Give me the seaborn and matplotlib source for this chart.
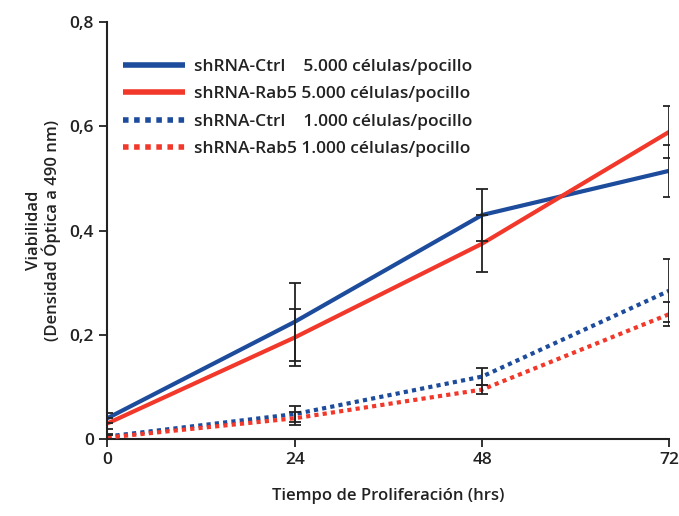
import numpy as np
import pandas as pd
import seaborn as sns
import matplotlib.pyplot as plt
from matplotlib.lines import Line2D

sns.set_style("white")
plt.rcParams['font.family'] = ['Open Sans', 'DejaVu Sans']

horas = [0, 24, 48, 72]
ctrl_5000 = [0.04, 0.225, 0.43, 0.515]
rab5_5000 = [0.03, 0.195, 0.375, 0.59]
ctrl_1000 = [0.005, 0.048, 0.12, 0.285]
rab5_1000 = [0.003, 0.04, 0.095, 0.24]
err_ctrl_5000 = [0.01, 0.075, 0.05, 0.05]
err_rab5_5000 = [0.01, 0.055, 0.055, 0.05]
err_ctrl_1000 = [0.005, 0.015, 0.017, 0.06]
err_rab5_1000 = [0.005, 0.012, 0.008, 0.023]

etiquetas = ["shRNA-Ctrl", "shRNA-Rab5", "shRNA-Ctrl", "shRNA-Rab5"]
celulas = ["5.000 células/pocillo", "5.000 células/pocillo",
           "1.000 células/pocillo", "1.000 células/pocillo"]

azul = "#1d4c9c"
rojo = "#f2382a"

series = [
    (ctrl_5000, err_ctrl_5000, azul, "-"),
    (rab5_5000, err_rab5_5000, rojo, "-"),
    (ctrl_1000, err_ctrl_1000, azul, (0, (1, 1))),
    (rab5_1000, err_rab5_1000, rojo, (0, (1, 1))),
]

fig = plt.figure(figsize=(6.79, 5.16), dpi=100)
ax = fig.add_axes([0.158, 0.149, 0.828, 0.808])

handles = []
for (vals, errs, col, ls) in series:
    df = pd.DataFrame({"t": horas, "v": vals})
    sns.lineplot(data=df, x="t", y="v", ax=ax, color=col, lw=3, linestyle=ls,
                 dash_capstyle="butt", solid_capstyle="butt", zorder=3)
    ax.errorbar(horas, vals, yerr=errs, fmt="none", ecolor="#222222",
                elinewidth=1.3, capsize=4, capthick=1.3, zorder=4)
    handles.append(Line2D([], [], color=col, lw=4, linestyle=ls,
                          dash_capstyle="butt", solid_capstyle="butt"))

ax.set_xlim(0, 72)
ax.set_ylim(0, 0.8)
ax.set_xticks(horas)
ax.set_yticks([0, 0.2, 0.4, 0.6, 0.8])
ax.set_yticklabels(["0", "0,2", "0,4", "0,6", "0,8"])
ax.tick_params(axis="both", labelsize=12.5, length=6, width=1.3, direction="out",
               left=True, bottom=True, colors="#222222", labelcolor="#222222")
for lab in ax.get_xticklabels() + ax.get_yticklabels():
    lab.set_fontweight("semibold")
for s in ["top", "right"]:
    ax.spines[s].set_visible(False)
for s in ["left", "bottom"]:
    ax.spines[s].set_linewidth(1.5)
    ax.spines[s].set_color("#222222")
    ax.spines[s].set_clip_on(False)

ax.set_xlabel("Tiempo de Proliferación (hrs)", fontsize=12, fontweight="semibold",
              color="#222222", labelpad=14)
ax.set_ylabel("Viabilidad\n(Densidad Óptica a 490 nm)", fontsize=12,
              fontweight="semibold", color="#222222", labelpad=6, linespacing=1.0)

labels = []
for e, c in zip(etiquetas, celulas):
    pad = "    " if e.endswith("Ctrl") else " "
    labels.append(e + pad + c)
leg = ax.legend(handles, labels, loc="upper left", bbox_to_anchor=(0.0, 0.95),
                frameon=False, handlelength=3.6, handletextpad=0.5,
                labelspacing=0.65, prop={"size": 12.5, "weight": "semibold"})
for t in leg.get_texts():
    t.set_color("#222222")

fig.savefig("out.png", dpi=100)
